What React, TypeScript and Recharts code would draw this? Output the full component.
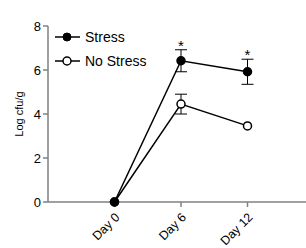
import { LineChart, Line, XAxis, YAxis, ErrorBar } from 'recharts';

const categories = ['Day 0', 'Day 6', 'Day 12'];
const stress = [0, 6.42, 5.92];
const stressErr = [0, 0.5, 0.57];
const noStress = [0, 4.45, 3.46];
const noStressErr = [0, 0.45, 0];
const significance = ['', '*', '*'];
const yTicks = [0, 2, 4, 6, 8];
const seriesNames = ['Stress', 'No Stress'];

const data = categories.map((day, i) => ({
  pos: i + 1,
  day,
  stress: stress[i],
  stressErr: stressErr[i],
  noStress: noStress[i],
  noStressErr: noStressErr[i],
  starTop: significance[i] ? stress[i] + stressErr[i] : null,
  star: significance[i],
}));

const font = '"Liberation Sans", Arial, sans-serif';
const axisColor = '#808080';

const DayTick = (props: any) => {
  const { x, y, payload } = props;
  const label = categories[payload.value - 1];
  const ax = x + 6;
  const ay = y + 9;
  return (
    <text
      x={ax}
      y={ay}
      transform={`rotate(-45 ${ax} ${ay})`}
      textAnchor="end"
      fontSize={12.5}
      fontFamily={font}
      fill="#000"
    >
      {label}
    </text>
  );
};

const StarDot = (props: any) => {
  const { cx, cy, payload } = props;
  if (cy == null || !payload.star) return null;
  return (
    <text x={cx} y={cy + 1} textAnchor="middle" fontSize={15} fontFamily={font} fill="#000">
      {payload.star}
    </text>
  );
};

// legend drawn as an overlay so it doesn't push the plot down
const LegendBox = () => (
  <svg width={120} height={50} style={{ position: 'absolute', left: 52, top: 26 }}>
    <line x1={3} y1={11} x2={28} y2={11} stroke="#000" strokeWidth={1.5} />
    <circle cx={15} cy={11} r={4} fill="#000" stroke="#000" />
    <text x={33} y={16} fontSize={14} fontFamily={font} fill="#000">{seriesNames[0]}</text>
    <line x1={3} y1={35} x2={28} y2={35} stroke="#000" strokeWidth={1.5} />
    <circle cx={15} cy={35} r={4} fill="#fff" stroke="#000" strokeWidth={1.5} />
    <text x={33} y={40} fontSize={14} fontFamily={font} fill="#000">{seriesNames[1]}</text>
  </svg>
);

export default function App() {
  return (
    <div style={{ position: 'absolute', left: 0, top: 0, width: 306, height: 248, overflow: 'hidden', background: '#fff' }}>
      <LineChart width={320} height={248} data={data} margin={{ top: 26, right: 6, left: 0, bottom: 0 }}>
        <XAxis
          dataKey="pos"
          type="number"
          domain={[0, 4]}
          ticks={[1, 2, 3]}
          height={46}
          stroke={axisColor}
          strokeWidth={1.5}
          tickSize={5}
          tick={<DayTick />}
          interval={0}
        />
        <YAxis
          domain={[0, 8]}
          ticks={yTicks}
          width={48}
          stroke={axisColor}
          strokeWidth={1.5}
          tickSize={5}
          tick={{ fill: '#000', fontSize: 13, fontFamily: font }}
          label={{ value: 'Log cfu/g', angle: -90, position: 'insideLeft', offset: 19, style: { fontSize: 11, fontFamily: font, fill: '#000', textAnchor: 'middle' } }}
        />
        <Line
          dataKey="noStress"
          name={seriesNames[1]}
          stroke="#000"
          strokeWidth={1.5}
          dot={{ r: 4, fill: '#fff', stroke: '#000', strokeWidth: 1.5 }}
          isAnimationActive={false}
        >
          <ErrorBar dataKey="noStressErr" width={6} stroke="#000" strokeWidth={1} direction="y" />
        </Line>
        <Line
          dataKey="stress"
          name={seriesNames[0]}
          stroke="#000"
          strokeWidth={1.5}
          dot={{ r: 4, fill: '#000', stroke: '#000' }}
          isAnimationActive={false}
        >
          <ErrorBar dataKey="stressErr" width={6} stroke="#000" strokeWidth={1} direction="y" />
        </Line>
        <Line
          dataKey="starTop"
          stroke="none"
          dot={<StarDot />}
          activeDot={false}
          legendType="none"
          isAnimationActive={false}
        />
      </LineChart>
      <LegendBox />
    </div>
  );
}
